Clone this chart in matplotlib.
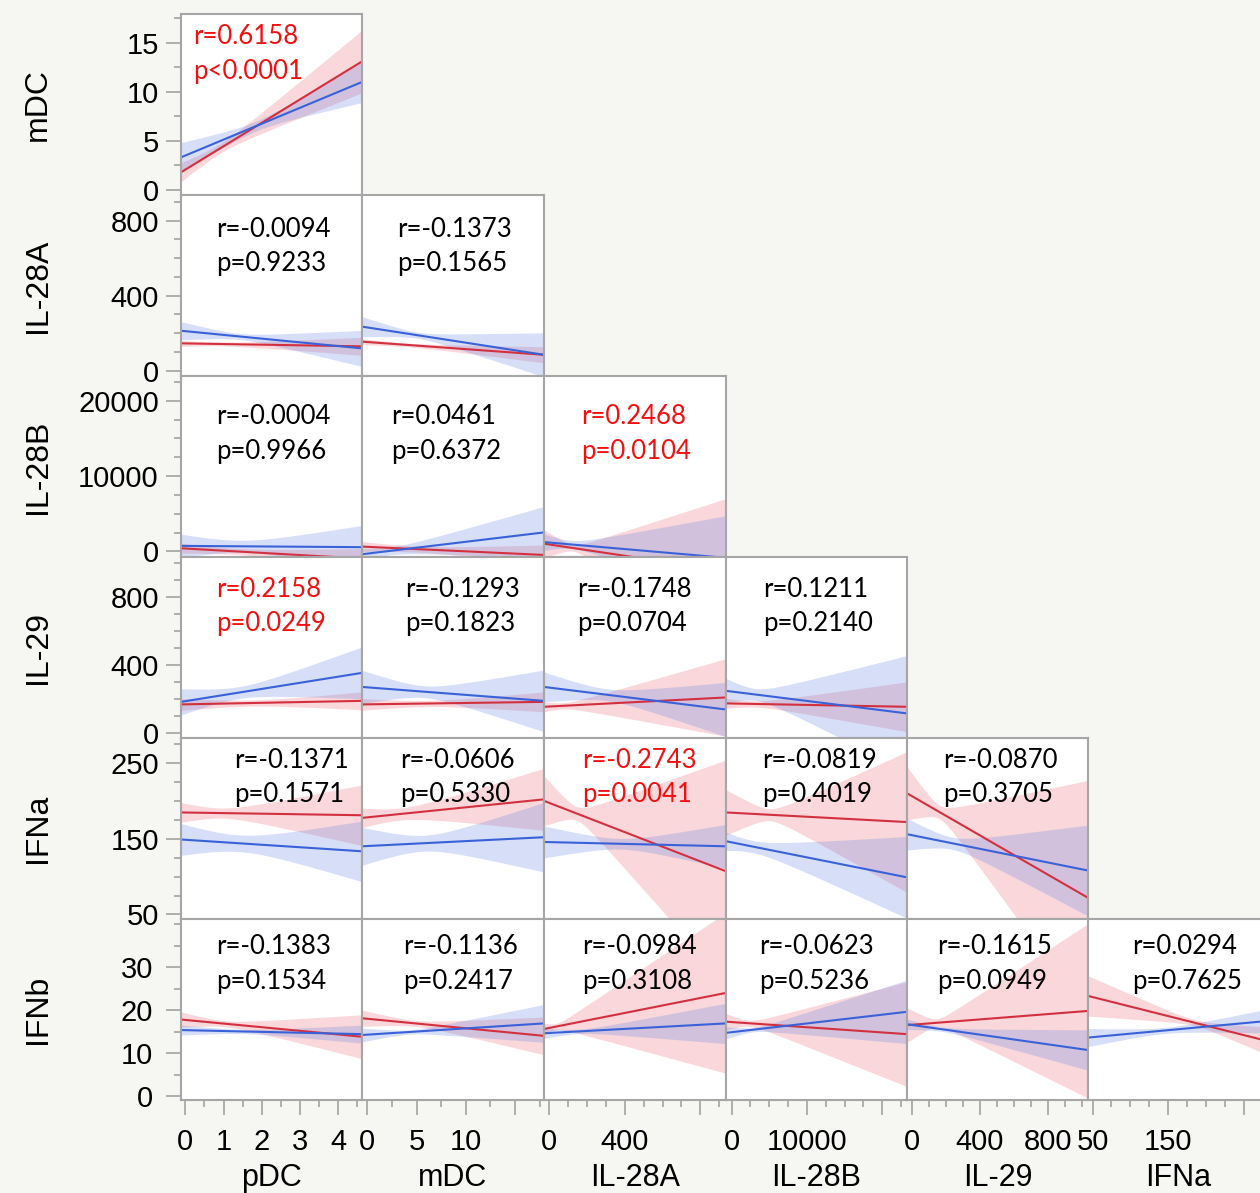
import numpy as np
import matplotlib.pyplot as plt
from matplotlib import font_manager
from matplotlib.ticker import MultipleLocator

installed = {f.name for f in font_manager.fontManager.ttflist}
axis_font = 'Liberation Sans' if 'Liberation Sans' in installed else 'DejaVu Sans'
stat_font = 'Lato' if 'Lato' in installed else 'DejaVu Sans'

# variables of the lower-triangle matrix
x_vars = ['pDC', 'mDC', 'IL-28A', 'IL-28B', 'IL-29', 'IFNa']
y_vars = ['mDC', 'IL-28A', 'IL-28B', 'IL-29', 'IFNa', 'IFNb']

axis_range = {
    'pDC': (-0.115, 4.63),
    'mDC': (-0.55, 17.95),
    'IL-28A': (-28, 936),
    'IL-28B': (-750, 23300),
    'IL-29': (-29, 1038),
    'IFNa': (44, 283),
    'IFNb': (-0.93, 41.2),
}
major_ticks = {
    'pDC': [0, 1, 2, 3, 4],
    'mDC': [0, 5, 10, 15],
    'IL-28A': [0, 400, 800],
    'IL-28B': [0, 10000, 20000],
    'IL-29': [0, 400, 800],
    'IFNa': [50, 150, 250],
    'IFNb': [0, 10, 20, 30],
}
minor_step = {'pDC': 0.5, 'mDC': 2.5, 'IL-28A': 100, 'IL-28B': 2500,
              'IL-29': 100, 'IFNa': 25, 'IFNb': 5}
# ticks that carry no label on the bottom axis
unlabelled_x = {'mDC': [15], 'IL-28A': [800], 'IL-28B': [20000], 'IFNa': [250]}

# panels in row order: (mDC|pDC), (IL-28A|pDC, mDC), ...
r_values = [0.6158, -0.0094, -0.1373, -0.0004, 0.0461, 0.2468, 0.2158, -0.1293,
            -0.1748, 0.1211, -0.1371, -0.0606, -0.2743, -0.0819, -0.0870,
            -0.1383, -0.1136, -0.0984, -0.0623, -0.1615, 0.0294]
p_values = [0.00001, 0.9233, 0.1565, 0.9966, 0.6372, 0.0104, 0.0249, 0.1823,
            0.0704, 0.2140, 0.1571, 0.5330, 0.0041, 0.4019, 0.3705,
            0.1534, 0.2417, 0.3108, 0.5236, 0.0949, 0.7625]

# fitted line at left/right edge and half width of the confidence band (left, narrowest, right)
red_y0 = [1.77, 146, 155, 411, 636, 1020, 169, 169, 155, 175, 184.7, 177.5, 200, 184.7, 210,
          17.8, 18.1, 15.6, 17.3, 16.5, 23.3]
red_y1 = [13.1, 130, 85, -960, -477, -2600, 190, 184, 210, 155, 181, 202, 107, 172, 72,
          13.8, 14.0, 24.0, 14.4, 19.8, 12.7]
red_h0 = [0.97, 16, 16, 660, 660, 1855, 35, 35, 30, 30, 13, 13, 33, 30, 35,
          1.75, 1.9, 1.4, 1.9, 4.0, 4.7]
red_hm = [0.5, 10, 10, 400, 400, 400, 18, 18, 18, 18, 6.6, 8, 9, 8, 9,
          0.7, 0.7, 0.7, 0.7, 0.9, 0.7]
red_h1 = [3.2, 48, 43, 1325, 1325, 9620, 53, 59, 229, 147, 40, 41, 147, 93, 155,
          5.1, 4.4, 18.7, 12.2, 20.3, 3.3]

blue_y0 = [3.3, 213, 235, 729, -384, 1232, 184, 272, 272, 249, 149, 140, 145.7, 146.7, 156,
           15.35, 14.2, 14.6, 14.7, 16.7, 13.6]
blue_y1 = [11.0, 119, 85, 556, 2517, -860, 355, 190, 139, 116, 133.4, 152, 140, 99, 108,
           14.4, 16.9, 16.9, 19.6, 10.7, 17.5]
blue_h0 = [1.5, 48, 53, 1550, 800, 1100, 77, 98, 88, 73, 21, 25, 21, 12, 21,
           1.16, 1.6, 1.2, 1.4, 1.2, 2.1]
blue_hm = [0.5, 16, 16, 800, 530, 530, 35, 35, 35, 35, 11, 10.5, 7, 8, 8,
           0.5, 0.5, 0.5, 0.5, 0.5, 0.7]
blue_h1 = [2.1, 96, 117, 2890, 3445, 5600, 153, 182, 160, 341, 40, 46, 29, 54, 60,
           2.1, 4.4, 4.7, 7.4, 4.7, 2.8]

# layout in pixels
W, H = 1260, 1193
col_left = [181, 362, 544, 726, 907, 1088]
col_width = [181, 182, 182, 181, 181, 181]
row_top = [14, 195, 376, 557, 738, 919]
row_height = 181
text_dx = [12, 35, 35, 35, 29, 37, 35, 43, 33, 37, 53, 38, 38, 36, 36,
           35, 41, 38, 33, 30, 44]
text_baseline = [30, 42, 48, 40, 29.5, 35.5]
line_gap = 34.5

RED = '#d3303f'
BLUE = '#3a62d8'
GRID = '#a6a6a6'


def band(x0, x1, y0, y1, h0, hm, h1):
    x = np.linspace(x0, x1, 80)
    y = y0 + (y1 - y0) * (x - x0) / (x1 - x0)
    d0 = np.sqrt(max(h0 ** 2 - hm ** 2, 0))
    d1 = np.sqrt(max(h1 ** 2 - hm ** 2, 0))
    xm = x0 + (x1 - x0) * d0 / (d0 + d1)
    b = (d0 + d1) / (x1 - x0)
    h = np.sqrt(hm ** 2 + (b * (x - xm)) ** 2)
    return x, y - h, y + h


fig = plt.figure(figsize=(W / 100, H / 100), dpi=100, facecolor='#f6f6f3')

k = 0
for r, yv in enumerate(y_vars):
    for c in range(r + 1):
        xv = x_vars[c]
        ax = fig.add_axes([col_left[c] / W, 1 - (row_top[r] + row_height) / H,
                           col_width[c] / W, row_height / H])
        ax.set_facecolor('white')
        x0, x1 = axis_range[xv]
        ax.set_xlim(x0, x1)
        ax.set_ylim(*axis_range[yv])

        xs, lo, hi = band(x0, x1, red_y0[k], red_y1[k], red_h0[k], red_hm[k], red_h1[k])
        ax.fill_between(xs, lo, hi, color='#e8606e', alpha=0.25, lw=0)
        xs, lo, hi = band(x0, x1, blue_y0[k], blue_y1[k], blue_h0[k], blue_hm[k], blue_h1[k])
        ax.fill_between(xs, lo, hi, color='#6f8ae6', alpha=0.28, lw=0)
        ax.plot([x0, x1], [red_y0[k], red_y1[k]], color=RED, lw=1.5)
        ax.plot([x0, x1], [blue_y0[k], blue_y1[k]], color=BLUE, lw=1.5)

        for s in ax.spines.values():
            s.set_color(GRID)
            s.set_linewidth(1.5)

        # r / p annotation
        sig = p_values[k] < 0.05
        ptxt = 'p<0.0001' if p_values[k] < 0.0001 else f'p={p_values[k]:.4f}'
        tx = text_dx[k] / col_width[c]
        ty = 1 - text_baseline[r] / row_height
        for i, s in enumerate([f'r={r_values[k]:.4f}', ptxt]):
            ax.text(tx, ty - i * line_gap / row_height, s, transform=ax.transAxes,
                    ha='left', va='baseline', fontsize=18.5, family=stat_font,
                    color='#f01010' if sig else 'black')

        ax.tick_params(which='both', left=False, bottom=False,
                       labelleft=False, labelbottom=False,
                       color='#9a9a9a', width=1.1, labelsize=21)
        ax.tick_params(which='major', length=11, pad=5)
        ax.tick_params(which='minor', length=5)
        if c == 0:
            ax.set_yticks(major_ticks[yv])
            ax.set_yticklabels([str(t) for t in major_ticks[yv]], family=axis_font)
            ax.yaxis.set_minor_locator(MultipleLocator(minor_step[yv]))
            ax.tick_params(which='both', left=True, labelleft=True)
            fig.text(38 / W, 1 - (row_top[r] + row_height / 2) / H, yv, rotation=90,
                     ha='center', va='center', fontsize=23, family=axis_font)
        else:
            ax.set_yticks([])
        if r == len(y_vars) - 1:
            ticks = major_ticks[xv]
            ax.set_xticks(ticks)
            ax.set_xticklabels(['' if t in unlabelled_x.get(xv, []) else str(t) for t in ticks],
                               family=axis_font)
            ax.xaxis.set_minor_locator(MultipleLocator(minor_step[xv]))
            ax.tick_params(which='both', bottom=True, labelbottom=True)
            ax.tick_params(which='major', pad=9)
            fig.text((col_left[c] + col_width[c] / 2) / W, 1 - 1178 / H, xv,
                     ha='center', va='center', fontsize=22, family=axis_font)
        else:
            ax.set_xticks([])
        k += 1

fig.savefig('out.png', dpi=100, facecolor=fig.get_facecolor())
